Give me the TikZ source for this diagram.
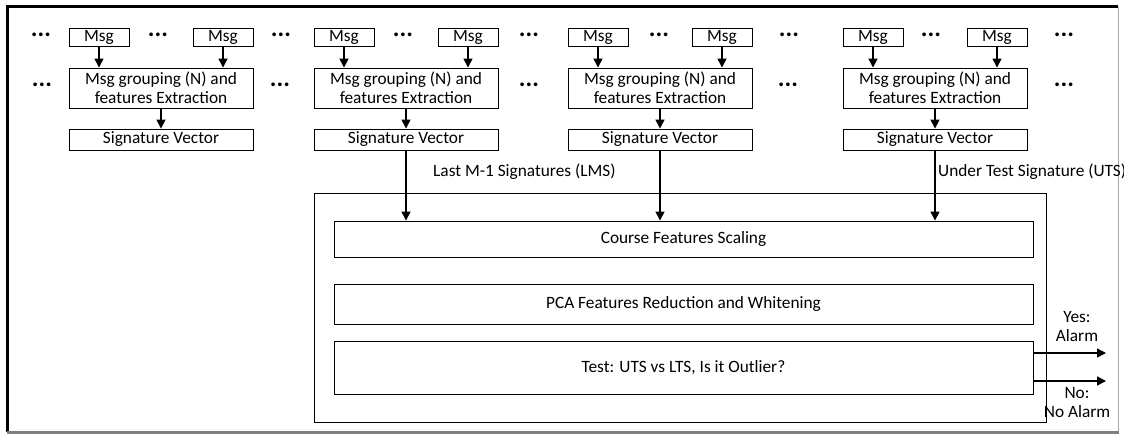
\documentclass[tikz,border=0pt]{standalone}
\usepackage{fontspec}
\setmainfont{Carlito}
\usetikzlibrary{arrows.meta}
\begin{document}
\begin{tikzpicture}[x=1pt,y=-1pt,
  every node/.style={font=\fontsize{17.3}{19}\selectfont},
  box/.style={draw, line width=0.9pt, inner sep=0pt, align=center},
  msgbox/.style={box, minimum width=60pt, minimum height=18pt},
  grpbox/.style={box, minimum width=184pt, minimum height=40pt},
  sigbox/.style={box, minimum width=184pt, minimum height=21pt},
  wide/.style={box, minimum width=699pt},
  arr/.style={line width=1.4pt, -{Triangle[length=9pt,width=9pt]}},
  dots/.style={inner sep=0pt, font=\fontsize{25}{25}\selectfont\bfseries},
  lbl/.style={inner sep=0pt, align=center}]
\useasboundingbox (0,0) rectangle (1124,434);
% outer frame
\draw[line width=3pt] (7,432) -- (7,6.5) -- (1118,6.5);
\draw[gray!70, line width=1pt] (1118.5,6.5) -- (1118.5,432);
\draw[gray, line width=2.5pt] (7,432.5) -- (1119,432.5);
% groups
\foreach \i/\xl in {1/69,2/314,3/568,4/843}{
  \node[msgbox] (ma\i) at (\xl+30,37) {Msg};
  \node[msgbox] (mb\i) at (\xl+154,37) {Msg};
  \node[grpbox] (g\i) at (\xl+92,88) {Msg grouping (N) and\\features Extraction};
  \node[sigbox] (s\i) at (\xl+92,139.5) {Signature Vector};
  \draw[arr] (ma\i.south) -- (ma\i.south |- g\i.north);
  \draw[arr] (mb\i.south) -- (mb\i.south |- g\i.north);
  \draw[arr] (g\i.south) -- (s\i.north);
}
% dots
\foreach \n/\x in {a/41,b/158,c/281,d/403,e/529,f/659,g/789,h/931,i/1064}{
  \node[dots] (d1\n) at (\x,35) {...};
}
\foreach \n/\x in {a/42,b/280,c/529,d/788,e/1064}{
  \node[dots] (d2\n) at (\x,85) {...};
}
% processing block
\node[draw, line width=0.9pt, minimum width=732pt, minimum height=229pt, inner sep=0pt] (big) at (680,307.5) {};
\node[wide, minimum height=36pt] (course) at (683.5,239) {Course Features Scaling};
\node[wide, minimum height=40pt] (pca) at (683.5,304) {PCA Features Reduction and Whitening};
\node[wide, minimum height=53pt] (test) at (683.5,367.5) {Test: UTS vs LTS, Is it Outlier?};
\draw[arr] (s2.south) -- (s2.south |- course.north);
\draw[arr] (s3.south) -- (s3.south |- course.north);
\draw[arr] (s4.south) -- (s4.south |- course.north);
\node[lbl, anchor=west] (lms) at (433,172) {Last M-1 Signatures (LMS)};
\node[lbl, anchor=west] (uts) at (938,172) {Under Test Signature (UTS)};
% outputs
\coordinate (yesend) at (1106,353);
\coordinate (noend) at (1106,381);
\draw[arr] (test.east |- yesend) -- (yesend);
\draw[arr] (test.east |- noend) -- (noend);
\node[lbl] (yes) at (1077,327) {Yes:\\Alarm};
\node[lbl] (no) at (1077,403) {No:\\No Alarm};
\end{tikzpicture}
\end{document}
